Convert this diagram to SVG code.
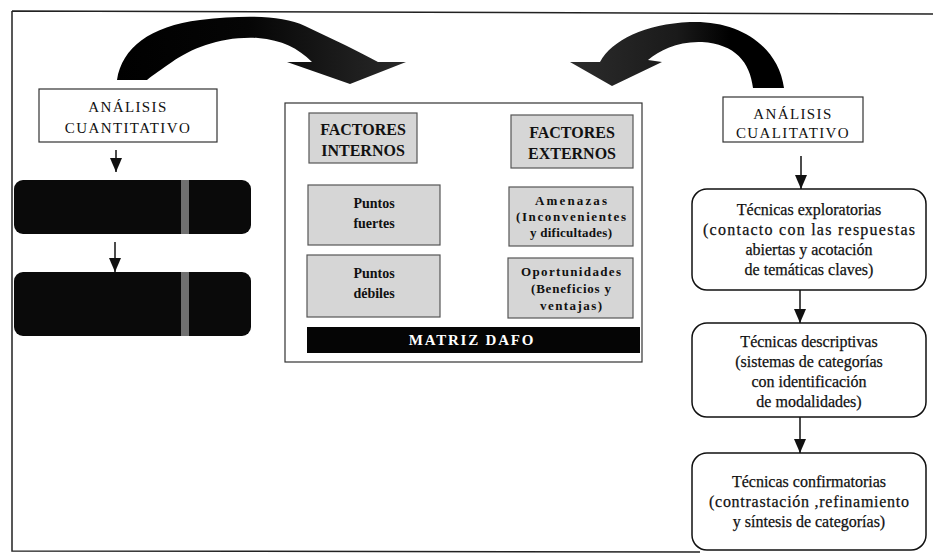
<svg xmlns="http://www.w3.org/2000/svg" width="933" height="556" viewBox="0 0 933 556">
<defs>
<style>
.frame{fill:none;stroke:#222;stroke-width:1.5}
.box{fill:#fff;stroke:#333;stroke-width:1.2}
.dark{fill:#0a0a0a}
.inner{fill:#d6d6d6;stroke:#555;stroke-width:1.2}
.round{fill:#fff;stroke:#111;stroke-width:1.5}
.cap{font-family:"Liberation Serif",serif;font-size:15px;letter-spacing:1.4px;fill:#111;text-anchor:middle}
.hb{font-family:"Liberation Serif",serif;font-size:16px;font-weight:bold;fill:#111;text-anchor:middle}
.mb{font-family:"Liberation Serif",serif;font-size:14px;font-weight:bold;fill:#111;text-anchor:middle}
.sb{font-family:"Liberation Serif",serif;font-size:13px;font-weight:bold;fill:#111;text-anchor:middle}
.rt{font-family:"Liberation Serif",serif;font-size:16px;fill:#111;stroke:#111;stroke-width:0.25;text-anchor:middle}
.conn{stroke:#111;stroke-width:1.5;fill:none}
</style>
<linearGradient id="gL" x1="0" y1="0" x2="1" y2="0">
<stop offset="0" stop-color="#000"/><stop offset="0.45" stop-color="#050505"/><stop offset="1" stop-color="#2a2a2a"/>
</linearGradient>
<linearGradient id="gR" x1="0" y1="0" x2="1" y2="0">
<stop offset="0" stop-color="#2c2c2c"/><stop offset="0.5" stop-color="#1a1a1a"/><stop offset="0.75" stop-color="#000"/>
</linearGradient>
<marker id="ah" markerWidth="14" markerHeight="12" refX="14" refY="6" orient="auto" markerUnits="userSpaceOnUse" viewBox="0 0 14 12">
<path d="M0,0 L14,6 L0,12 Z" fill="#111"/>
</marker>
</defs>
<rect width="933" height="556" fill="#fff"/>
<g id="frame">
<path class="frame" d="M12,11 L933,14 M12,11 L12,551 L700,552"/>
</g>
<g id="curved-arrows">
<path fill="url(#gL)" d="M117,80 C122,48 150,26 200,20 C245,15 282,15 305,26 C335,40 360,52 378,62 L406,62 L350,84 L287,62 L312,62 C298,48 282,40 258,38 C222,36 192,48 172,62 C162,69 153,75 147,80 Z"/>
<path fill="url(#gR)" d="M753,88 C750,62 735,44 702,42 C678,41 660,50 648,60 L662,62 L612,86 L570,62 L600,62 C612,40 645,24 690,22 C738,20 778,45 784,88 Z"/>
</g>
<g id="connectors">
<line class="conn" x1="116" y1="150" x2="116" y2="172" marker-end="url(#ah)"/>
<line class="conn" x1="115" y1="242" x2="115" y2="272" marker-end="url(#ah)"/>
<line class="conn" x1="801" y1="156" x2="801" y2="189" marker-end="url(#ah)"/>
<line class="conn" x1="800" y1="290" x2="800" y2="323" marker-end="url(#ah)"/>
<line class="conn" x1="800" y1="417" x2="800" y2="453" marker-end="url(#ah)"/>
</g>
<g id="analisis-cuantitativo">
<rect class="box" x="39" y="89" width="178" height="53"/>
<text class="cap" x="128" y="112">ANÁLISIS</text>
<text class="cap" x="128" y="133">CUANTITATIVO</text>
</g>
<g id="dark-box-1">
<rect class="dark" x="14" y="180" width="237" height="54" rx="9"/>
<rect x="181" y="180" width="8" height="54" fill="#8a8a8a" opacity="0.8"/>
</g>
<g id="dark-box-2">
<rect class="dark" x="14" y="272" width="237" height="64" rx="9"/>
<rect x="181" y="272" width="8" height="64" fill="#8a8a8a" opacity="0.8"/>
</g>
<g id="matriz">
<rect class="box" x="285" y="103" width="357" height="259" stroke="#777"/>
</g>
<g id="factores-internos">
<rect class="inner" x="309" y="113" width="108" height="50"/>
<text class="hb" x="363" y="135">FACTORES</text>
<text class="hb" x="363" y="156">INTERNOS</text>
</g>
<g id="factores-externos">
<rect class="inner" x="511" y="115" width="122" height="53"/>
<text class="hb" x="572" y="138">FACTORES</text>
<text class="hb" x="572" y="159">EXTERNOS</text>
</g>
<g id="puntos-fuertes">
<rect class="inner" x="308" y="185" width="132" height="60"/>
<text class="mb" x="374" y="208">Puntos</text>
<text class="mb" x="374" y="228">fuertes</text>
</g>
<g id="amenazas">
<rect class="inner" x="509" y="187" width="124" height="59"/>
<text class="sb" x="571" y="205" textLength="72" lengthAdjust="spacing">Amenazas</text>
<text class="sb" x="571" y="221" textLength="110" lengthAdjust="spacing">(Inconvenientes</text>
<text class="sb" x="571" y="237" textLength="82" lengthAdjust="spacing">y dificultades)</text>
</g>
<g id="puntos-debiles">
<rect class="inner" x="307" y="255" width="133" height="62"/>
<text class="mb" x="374" y="278">Puntos</text>
<text class="mb" x="374" y="298">débiles</text>
</g>
<g id="oportunidades">
<rect class="inner" x="508" y="258" width="125" height="60"/>
<text class="sb" x="571" y="276" textLength="100" lengthAdjust="spacing">Oportunidades</text>
<text class="sb" x="571" y="293" textLength="80" lengthAdjust="spacing">(Beneficios y</text>
<text class="sb" x="571" y="310" textLength="62" lengthAdjust="spacing">ventajas)</text>
</g>
<g id="matriz-dafo">
<rect x="307" y="327" width="333" height="26" fill="#050505"/>
<text x="472" y="345" font-family="Liberation Serif, serif" font-size="15" font-weight="bold" letter-spacing="1.8" fill="#fff" text-anchor="middle">MATRIZ DAFO</text>
</g>
<g id="analisis-cualitativo">
<rect class="box" x="723" y="97" width="140" height="45"/>
<text class="cap" x="793" y="119">ANÁLISIS</text>
<text class="cap" x="793" y="138">CUALITATIVO</text>
</g>
<g id="tecnicas-exploratorias">
<rect class="round" x="692" y="189" width="234" height="101" rx="15"/>
<text class="rt" x="809" y="215">Técnicas exploratorias</text>
<text class="rt" x="809" y="235" textLength="212" lengthAdjust="spacing">(contacto con las respuestas</text>
<text class="rt" x="809" y="255">abiertas y acotación</text>
<text class="rt" x="809" y="275">de temáticas claves)</text>
</g>
<g id="tecnicas-descriptivas">
<rect class="round" x="692" y="323" width="234" height="94" rx="15"/>
<text class="rt" x="809" y="347">Técnicas descriptivas</text>
<text class="rt" x="809" y="367">(sistemas de categorías</text>
<text class="rt" x="809" y="387">con identificación</text>
<text class="rt" x="809" y="407">de modalidades)</text>
</g>
<g id="tecnicas-confirmatorias">
<rect class="round" x="692" y="453" width="234" height="97" rx="15"/>
<text class="rt" x="809" y="487">Técnicas confirmatorias</text>
<text class="rt" x="809" y="507" textLength="200" lengthAdjust="spacing">(contrastación ,refinamiento</text>
<text class="rt" x="809" y="527">y síntesis de categorías)</text>
</g>
</svg>
